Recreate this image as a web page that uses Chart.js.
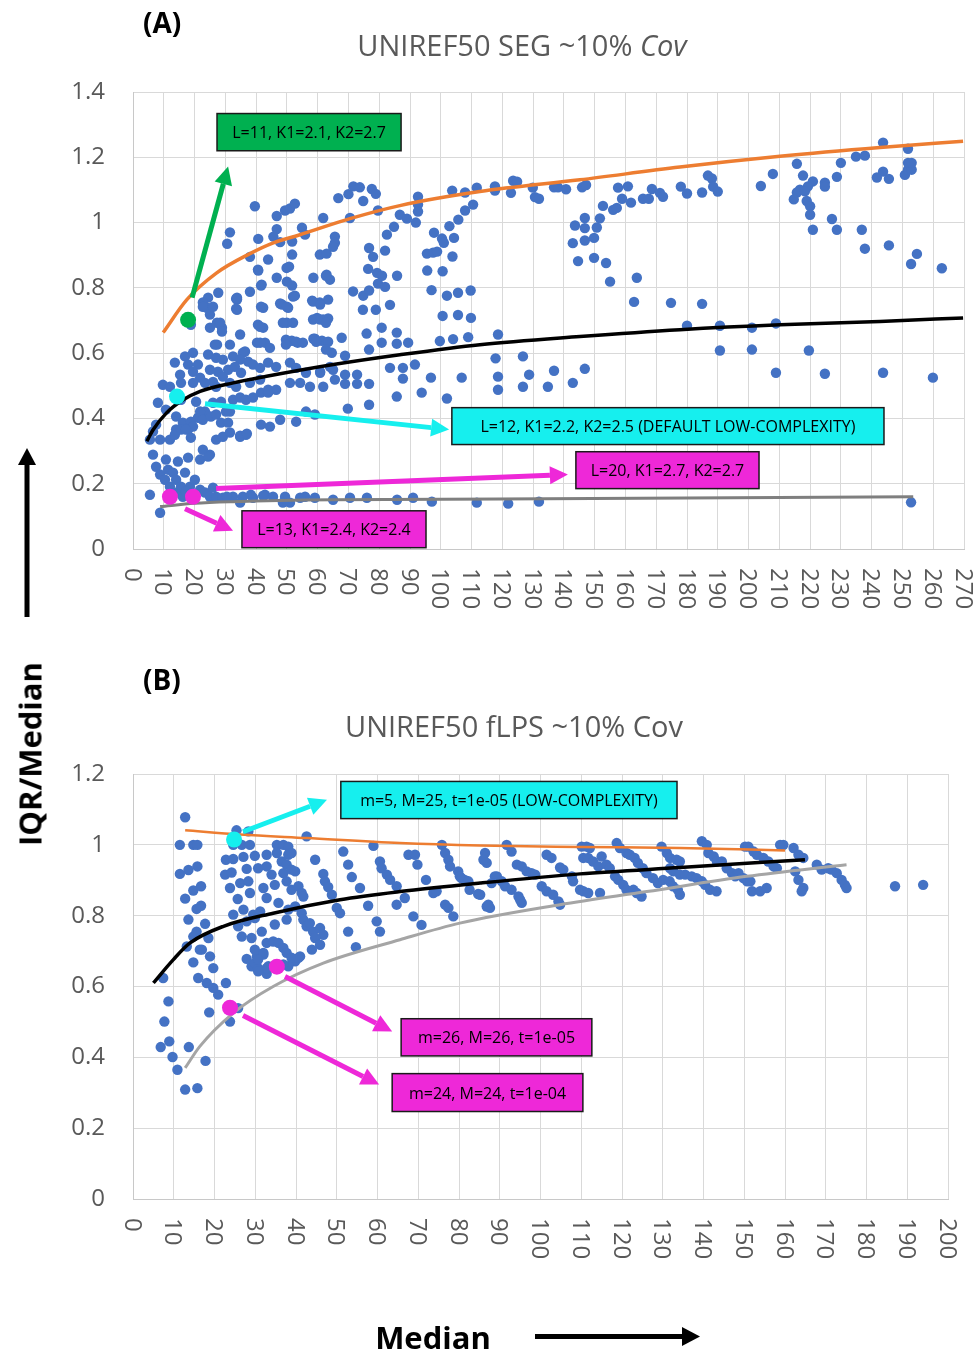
<!DOCTYPE html>
<html>
<head>
<meta charset="utf-8">
<script src="https://cdn.jsdelivr.net/npm/chart.js@4.4.1/dist/chart.umd.min.js"></script>
<style>
  body { margin: 0; background: #fff; width: 977px; height: 1350px; position: relative; overflow: hidden; font-family: 'Open Sans', sans-serif; }
  canvas { position: absolute; left: 0; }
  .lbl { position: absolute; white-space: nowrap; line-height: 1; }
  .title { color: #595959; font-size: 29px; transform: translate(-50%, -50%); }
  .panel { font-weight: bold; font-size: 28px; color: #000; transform: translateY(-50%); }
  .axis { font-weight: bold; font-size: 31px; color: #000; }
</style>
</head>
<body>
<canvas id="chartA" width="977" height="640" style="top:0"></canvas>
<canvas id="chartB" width="977" height="710" style="top:640px"></canvas>

<div class="lbl panel" style="left:143px; top:22px;">(A)</div>
<div class="lbl title" style="left:522px; top:44px;">UNIREF50 SEG ~10% <i>Cov</i></div>
<div class="lbl panel" style="left:143px; top:679px;">(B)</div>
<div class="lbl title" style="left:514px; top:725px;">UNIREF50 fLPS ~10% Cov</div>
<div class="lbl axis" style="left:30px; top:754px; transform: translate(-50%, -50%) rotate(-90deg);">IQR/Median</div>
<div class="lbl axis" style="left:433px; top:1337px; transform: translate(-50%, -50%);">Median</div>

<svg width="977" height="1350" style="position:absolute; left:0; top:0; pointer-events:none;">
  <line x1="27" y1="617" x2="27" y2="462" stroke="#000" stroke-width="5"/>
  <polygon points="18,465 36,465 27,448" fill="#000"/>
  <line x1="535" y1="1336.5" x2="684" y2="1336.5" stroke="#000" stroke-width="5"/>
  <polygon points="682,1327 682,1346 700,1336.5" fill="#000"/>
</svg>

<script>
// Colours taken from the figure
const BLUE = '#4472C4';
const ORANGE = '#ED7D31';
const GREEN = '#00B050';
const CYAN = '#16EFEE';
const MAGENTA = '#EE28D8';

// ---------- Panel A data (SEG) : [median, IQR/median] ----------
const segPoints = [
  [39.6,1.05],[31.5,0.97],[30.6,0.935],[46.7,1.02],[46.7,0.98],[40.7,0.95],[45.6,0.957],[47.8,0.94],[49.4,1.037],[51,1.043],
  [52.6,1.058],[54.9,0.984],[55.9,0.963],[51.7,0.942],[51.7,0.902],[38,0.895],[43.9,0.887],[40.7,0.853],[41.8,0.81],[46.7,0.831],
  [49.9,0.861],[50,0.819],[51.7,0.807],[52.6,0.776],[38,0.788],[33.8,0.77],[27.7,0.785],[24.4,0.77],[61.8,1.014],[60.7,0.902],
  [62.9,0.905],[65.6,0.957],[65.6,0.938],[58.6,0.831],[62.9,0.84],[64,0.825],[66.7,1.075],[70,1.087],[71.6,1.111],[73.7,1.108],
  [74.8,1.066],[77.6,1.103],[78.9,1.088],[70.5,1.014],[79.6,1.037],[76.7,0.922],[78,0.895],[81.9,0.914],[71.5,0.789],[74.8,0.776],
  [76.7,0.792],[76.4,0.858],[79.3,0.846],[80.9,0.837],[79.6,0.813],[81.9,0.803],[85.8,0.837],[84.8,0.987],[82.5,0.963],[86.7,1.024],
  [89,1.012],[91.9,1.0],[92.6,1.079],[92.6,1.055],[92.6,1.034],[95.5,0.905],[97.5,0.908],[98.8,0.911],[97.8,0.969],[100.4,0.951],
  [101,0.938],[104.3,0.953],[103.8,0.896],[95.6,0.853],[100.6,0.851],[97,0.793],[102,0.776],[105.6,0.785],[109.7,0.792],[102.8,0.989],
  [105.7,1.009],[107.9,1.037],[110.5,1.055],[103.7,1.098],[107.9,1.092],[111.7,1.107],[117.6,1.111],[117.6,1.098],[122.8,1.091],[123.5,1.128],
  [124.8,1.125],[129.9,1.107],[130.6,1.078],[131.9,1.073],[136.8,1.108],[138.1,1.108],[140.7,1.102],[145.9,1.108],[147.2,1.115],[143.6,0.991],
  [146.8,1.014],[146.8,0.983],[142.9,0.937],[146.8,0.945],[149.8,0.953],[144.6,0.882],[149.8,0.892],[153.7,0.876],[155,0.819],[150.7,0.985],
  [151.7,1.013],[152.7,1.051],[156,1.039],[157.2,1.045],[157.6,1.107],[160.8,1.111],[158.9,1.073],[161.8,1.061],[163.7,0.831],[165.7,1.073],
  [167.6,1.073],[168.6,1.103],[171.2,1.091],[172.2,1.079],[178,1.11],[180,1.089],[184.9,1.092],[186.8,1.144],[188.1,1.135],[188.5,1.11],
  [190,1.095],[204,1.112],[207.9,1.149],[215.7,1.18],[217.7,1.144],[220.9,1.126],[219.3,1.111],[216.7,1.101],[215.7,1.092],[214.7,1.071],
  [218.3,1.096],[218.9,1.066],[220,1.05],[220,1.024],[220.9,0.978],[224.8,1.122],[224.8,1.11],[228.7,1.14],[230,1.183],[227.1,1.011],
  [228.7,0.978],[234.9,1.202],[237.8,1.205],[236.8,0.978],[237.8,0.92],[241.7,1.138],[243.7,1.156],[245.6,1.134],[243.7,1.245],[245.6,0.93],
  [250.8,1.146],[251.8,1.162],[253,1.162],[251.8,1.183],[253,1.183],[251.8,1.226],[252.8,0.873],[254.7,0.904],[262.8,0.86],
  [162.8,0.757],[174.8,0.754],[184.9,0.751],[180,0.684],[190.7,0.684],[201.1,0.678],[208.9,0.691],[190.7,0.608],[201.1,0.611],[219.6,0.608],
  [208.9,0.54],[224.8,0.537],[243.7,0.54],[259.9,0.525],[118.6,0.657],[117.8,0.584],[118.6,0.528],[118.6,0.488],[126.7,0.59],[128.7,0.534],
  [126.7,0.497],[136.8,0.546],[134.8,0.497],[142.9,0.509],[146.8,0.552],[121.9,0.139],[131.9,0.145],[252.8,0.143],
  [100.6,0.714],[105.6,0.717],[109.8,0.708],[99.7,0.637],[104,0.643],[108.9,0.649],[102,0.461],[106.8,0.525],[93.8,0.479],[96.8,0.525],
  [85.7,0.467],[87.7,0.555],[87.7,0.522],[91.6,0.565],[83.5,0.555],[85.7,0.663],[85.7,0.629],[89.4,0.632],[80.8,0.678],[80.8,0.632],
  [83.5,0.748],[78.9,0.733],[74.7,0.733],[75.9,0.66],[76.7,0.611],[76.7,0.506],[72.8,0.506],[72.8,0.534],[68.9,0.534],[68.9,0.506],
  [76.7,0.442],[69.8,0.43],[65,0.549],[65.6,0.519],[60.8,0.54],[67.8,0.647],[64.6,0.601],[68.9,0.592],[58.6,0.644],[61.4,0.638],
  [63.4,0.635],[63.4,0.764],[63.4,0.706],[61.8,0.703],[59.8,0.708],[58.2,0.761],[60.7,0.755],[52,0.693],[50,0.693],[48.4,0.749],
  [50.4,0.739],[52,0.773],[51.6,0.638],[53.5,0.632],[49.7,0.641],[42.3,0.739],[40.6,0.687],[42.3,0.678],[40.3,0.632],[42.9,0.632],
  [33.8,0.764],[33.8,0.733],[34.8,0.657],[31.5,0.626],[27.3,0.693],[28.9,0.678],[25,0.678],[27.3,0.626],[24,0.739],[25,0.718],
  [22.7,0.755],[41.6,0.807],[33.5,0.767],[33.5,0.736],[22.7,0.742],[26,0.742],[18.8,0.687],[28.3,0.693],[28.9,0.666],[41.6,0.742],
  [47.8,0.752],[50,0.742],[41.3,0.681],[48.7,0.693],[53,0.635],[58.5,0.758],[60.8,0.749],[58.5,0.703],[60.8,0.703],[62.7,0.693],
  [59.1,0.644],[65,0.926],[40.6,0.856],[50.7,0.865],[62.7,0.837],
  [26.6,0.626],[36.4,0.605],[41.3,0.632],[44.5,0.616],[49.7,0.626],[55.2,0.632],[59.5,0.635],[62.7,0.611],[16.9,0.59],[19.5,0.601],
  [24.4,0.596],[27,0.586],[29.2,0.58],[32.5,0.59],[35.7,0.601],[34.8,0.58],[37.4,0.574],[13.6,0.571],[17.9,0.565],[21.1,0.565],
  [19.5,0.543],[25,0.549],[27.6,0.543],[30.9,0.549],[33.1,0.558],[35.1,0.54],[15.3,0.534],[21.8,0.525],[26,0.512],[29.2,0.528],
  [39,0.565],[41.3,0.555],[43.9,0.571],[46.5,0.558],[51,0.571],[53,0.555],[56.2,0.54],[60.8,0.543],[64,0.558],[9.7,0.503],
  [12,0.497],[15.6,0.509],[19.5,0.509],[23.4,0.509],[27,0.497],[31.5,0.509],[33.5,0.497],[38,0.509],[41.3,0.519],[43.9,0.488],
  [46.5,0.488],[51,0.509],[54.3,0.509],[57.5,0.497],[61.8,0.497],[8.1,0.448],[10.7,0.427],[15.6,0.457],[20.5,0.451],[23.4,0.421],
  [26,0.448],[28.6,0.451],[31.5,0.421],[32.5,0.457],[34.8,0.464],[36.7,0.457],[39,0.464],[41.6,0.479],[43.9,0.479],[7.5,0.381],
  [6.5,0.36],[14,0.406],[16.2,0.387],[18.8,0.39],[21.1,0.402],[21.8,0.421],[14,0.366],[17.9,0.366],[19.5,0.375],[22.7,0.396],
  [25.3,0.406],[27,0.412],[30.2,0.421],[28.6,0.387],[30.9,0.387],[5.5,0.335],[8.8,0.335],[12,0.335],[13.6,0.35],[15.6,0.366],
  [17.2,0.366],[18.8,0.341],[41.6,0.381],[44.5,0.375],[47.8,0.396],[53,0.39],[56.2,0.421],[59.1,0.412],[27,0.335],[29.2,0.344],
  [31.5,0.357],[34.8,0.344],[36.7,0.35],[22.7,0.304],[25,0.289],[21.8,0.274],[17.9,0.28],[14.6,0.268],[10.7,0.274],[6.5,0.289],
  [7.5,0.252],[8.8,0.228],[10.4,0.212],[12,0.191],[14,0.173],[16.2,0.16],[18.5,0.191],[20.1,0.212],[16.9,0.234],[11.4,0.243],
  [13,0.234],[14,0.212],[15.6,0.191],[17.2,0.176],[21.8,0.182],[23.4,0.173],[25,0.16],[27,0.16],[29.2,0.157],[5.5,0.166],
  [8.8,0.111],[26,0.188],[32.5,0.16],[35.7,0.16],[38.3,0.166],[42.9,0.166],[45.5,0.16],[49.4,0.16],[51,0.142],[55.9,0.16],
  [59.1,0.157],[34.8,0.142],[54.3,0.157],[48.7,0.142],[65,0.151],[70.5,0.157],[76,0.157],[85.8,0.151],[91,0.157],[97.1,0.145],
  [111.7,0.142],[30.5,0.16],[39,0.157],[42.3,0.163],[24.4,0.283],[34.8,0.347],[37,0.353]
];
// trend lines
const segUpper = [[9.8,0.663],[17.5,0.764],[27.2,0.846],[38,0.905],[45.6,0.938],[54,0.962],[70.5,1.012],[86.7,1.052],[112.7,1.095],[145.2,1.131],[177.7,1.17],[210.2,1.203],[242.7,1.23],[269.7,1.249]];
const segMiddle = [[4.5,0.33],[6.6,0.366],[10.9,0.417],[16.3,0.457],[21.8,0.483],[32.6,0.509],[43.4,0.529],[65.1,0.565],[86.7,0.595],[112.7,0.626],[145.2,0.651],[177.7,0.672],[210.2,0.687],[242.7,0.697],[269.7,0.708]];
const segLower = [[8.8,0.13],[20,0.14],[32.5,0.145],[65,0.151],[119,0.153],[253.5,0.16]];
// highlighted parameter settings
const segGreen = [[17.9,0.702]];
const segCyan = [[14.3,0.467]];
const segMagenta = [[12,0.16],[19.5,0.16]];
const xTicksA = [0,10,20,30,40,50,60,70,80,90,100,110,120,130,140,150,160,170,180,190,200,210,220,230,240,250,260,270];
const yTicksA = [0,0.2,0.4,0.6,0.8,1,1.2,1.4];

// ---------- Panel B data (fLPS) ----------
const flpsPoints = [
  [12.8,1.078],[11.5,1.0],[14.8,1.0],[15.8,1.0],[11.5,0.918],[13.6,0.929],[15.8,0.939],[12.8,0.848],[14.8,0.871],[16.7,0.883],
  [15.6,0.819],[16.7,0.828],[13.6,0.789],[17.7,0.777],[14.8,0.741],[15.6,0.755],[18.5,0.737],[13.2,0.713],[16.4,0.704],[18.9,0.685],
  [14.8,0.668],[16,0.624],[19.7,0.652],[18.1,0.61],[20.9,0.577],[22.8,0.61],[19.7,0.596],[7.4,0.624],[8.7,0.558],[18.7,0.527],
  [7.7,0.501],[6.8,0.429],[8.9,0.445],[9.7,0.401],[10.9,0.365],[12.8,0.309],[15.8,0.313],[13.7,0.429],[17.8,0.39],[16.9,0.704],
  [23.8,0.501],[25.8,0.539],[29.1,0.657],[32.8,0.636],[30.4,0.685],[32,0.69],[39.8,0.671],[41,0.685],
  [25.4,1.041],[24.6,1.0],[26.7,1.0],[28.7,1.0],[28.3,1.038],[22.8,0.958],[24.6,0.96],[27.1,0.966],[29.9,0.969],[32.8,0.972],
  [22.6,0.916],[24.2,0.922],[27.9,0.932],[23.8,0.878],[26.3,0.892],[28.3,0.897],[25.7,0.847],[28.7,0.864],[32,0.878],[30.7,0.934],
  [32.8,0.939],[34,0.916],[34.8,0.887],[32.8,0.85],[35.7,0.836],[24.6,0.803],[27.1,0.817],[29.5,0.803],[31.2,0.812],[25.8,0.77],
  [27.9,0.784],[29.9,0.793],[26.7,0.741],[29.1,0.737],[31.6,0.755],[34.8,0.775],[29.9,0.704],[32,0.695],[32.8,0.723],[27.9,0.678],
  [29.9,0.666],[30.7,0.652],[33.2,0.657],[30.7,0.676],[35.3,1.0],[36.9,1.0],[38.1,0.995],[35.3,0.977],[38.1,0.972],[38.9,0.977],
  [36.5,0.953],[37.7,0.944],[36.9,0.92],[38.9,0.93],[39.8,0.925],[37.7,0.897],[38.9,0.873],[40.6,0.883],[41.4,0.864],[41.8,0.854],
  [38.1,0.817],[37.7,0.789],[39.8,0.826],[41.4,0.807],[41.8,0.789],[42.6,0.77],[43.4,0.779],[44.2,0.755],[45.9,0.765],[46.7,0.746],
  [44.7,0.737],[45.9,0.718],[43.9,0.704],[34.4,0.727],[35.7,0.723],[36.9,0.709],[37.7,0.695],[38.9,0.681],[40.6,0.681],[38.1,0.657],
  [36.9,0.662],[34.4,0.657],[32.8,0.652],[30.7,0.643],[42.6,1.024],[44.7,0.958],[46.7,0.918],[47.1,0.897],[47.9,0.881],[48.8,0.859],
  [50,0.822],[50.8,0.807],[51.6,0.981],[52.8,0.944],[53.7,0.909],[55.7,0.878],[57.7,0.828],[52.8,0.755],[54.7,0.711],[59,0.997],
  [60.6,0.953],[61,0.934],[62.3,0.916],[63.1,0.901],[64.7,0.883],[64.7,0.831],[59.8,0.784],[60.6,0.755],[66.7,0.85],[68.8,0.798],
  [70.8,0.774],[67.6,0.972],[69.2,0.972],[69.8,0.944],[71.9,0.901],[73.7,0.864],[74.5,0.869],[75.8,1.0],[76.6,0.977],[77.4,0.958],
  [77.8,0.939],[79.8,0.925],[80.6,0.906],[81.4,0.901],[82.6,0.873],[85.2,0.859],[86.8,0.826],[87.6,0.822],[86.4,0.977],[86.8,0.949],
  [89.3,0.911],[76.6,0.831],[77.4,0.822],[78.6,0.798],[80.2,0.911],[82.3,0.897],[84.7,0.861],[87.2,0.831],[86,0.958],[88.8,0.911],
  [90.5,0.897],[91.3,0.883],[92.9,0.873],[94.6,0.854],[95.4,0.836],[88,0.892],[91.7,1.0],[92.9,0.981],[94.2,0.944],[95.4,0.939],
  [96.6,0.925],[97.8,0.92],[98.7,0.916],[100.3,0.883],[101.5,0.869],[103.1,0.859],[104.4,0.84],[104.8,0.831],[95,0.845],[101.5,0.972],
  [102.7,0.963],[104.8,0.936],[105.6,0.93],[107.7,0.911],[108,0.897],[109.7,0.873],[110.5,0.869],[111.7,0.864],[114.6,0.864],[110.1,0.995],
  [111.3,0.995],[112.1,0.991],[110.5,0.963],[111.7,0.963],[112.9,0.953],[114.2,0.939],[115,0.967],[116.2,0.944],[117,0.934],[118.3,0.911],
  [119.1,0.901],[120.3,0.887],[121.1,0.873],[122.8,0.873],[123.6,0.864],[124.8,0.854],[118.7,1.005],[119.5,0.991],[121.1,0.977],[121.9,0.972],
  [123.1,0.963],[123.9,0.949],[125.1,0.934],[126,0.92],[127.6,0.906],[128.8,0.892],[130.1,0.901],[131.7,0.897],[132.5,0.883],[133.7,0.873],
  [134.2,0.859],[129.7,0.995],[131,0.977],[131.8,0.963],[133.4,0.958],[134.2,0.953],[131.8,0.934],[132.6,0.925],[134.2,0.916],[135.5,0.916],
  [137.1,0.911],[138.3,0.906],[139.6,0.897],[140.4,0.887],[141.6,0.873],[143.2,0.869],[139.6,1.01],[140.8,1.0],[141.2,0.977],[142.5,0.967],
  [143.3,0.953],[144.5,0.953],[145.7,0.934],[147,0.92],[147.8,0.911],[148.6,0.92],[149.8,0.906],[150.7,0.897],[151.5,0.897],[151.9,0.869],
  [153.9,0.869],[155.5,0.878],[150.2,0.995],[151,0.995],[152.3,0.981],[153.1,0.972],[154.7,0.963],[155.9,0.953],[157.2,0.939],[158,0.934],
  [158.8,1.0],[159.6,1.0],[162.1,0.991],[163.3,0.972],[164.5,0.963],[162.5,0.925],[163.3,0.901],[164.5,0.878],[164.1,0.869],[167.8,0.944],
  [169,0.93],[170.6,0.934],[171.4,0.93],[172.7,0.92],[173.9,0.901],[174.7,0.887],[175.1,0.878],[187,0.883],[193.9,0.887]
];
const flpsUpper = [[12.8,1.041],[26.3,1.029],[42.6,1.019],[65.5,1.005],[85.2,0.998],[109.7,0.994],[134.2,0.991],[160,0.984]];
const flpsMiddle = [[5,0.61],[9.9,0.676],[14,0.723],[22.2,0.77],[34.4,0.807],[50.8,0.845],[65.5,0.868],[85.2,0.892],[109.7,0.918],[134.2,0.936],[164.9,0.958]];
const flpsLower = [[12.8,0.37],[16.4,0.431],[24.6,0.525],[34.4,0.6],[46.7,0.666],[65.5,0.732],[80.2,0.779],[104.8,0.831],[126.1,0.868],[150.6,0.911],[175.1,0.944]];
const flpsCyan = [[24.8,1.015]];
const flpsMagenta = [[35.3,0.656],[23.8,0.54]];
const xTicksB = [0,10,20,30,40,50,60,70,80,90,100,110,120,130,140,150,160,170,180,190,200];
const yTicksB = [0,0.2,0.4,0.6,0.8,1,1.2];

// labels and arrows on top of the plots, placed in data units
const notesA = {
  boxes: [
    {x1: 27.3, x2: 87.1, y1: 1.334, y2: 1.22, fill: GREEN, text: 'L=11, K1=2.1, K2=2.7'},
    {x1: 103.6, x2: 244.0, y1: 0.433, y2: 0.32, fill: CYAN, text: 'L=12, K1=2.2, K2=2.5 (DEFAULT LOW-COMPLEXITY)'},
    {x1: 143.9, x2: 203.4, y1: 0.298, y2: 0.185, fill: MAGENTA, text: 'L=20, K1=2.7, K2=2.7'},
    {x1: 35.4, x2: 95.2, y1: 0.117, y2: 0.004, fill: MAGENTA, text: 'L=13, K1=2.4, K2=2.4'}
  ],
  arrows: [
    {from: [19.2, 0.77], to: [30.9, 1.172], color: GREEN},
    {from: [23.4, 0.445], to: [102.7, 0.366], color: CYAN},
    {from: [27.0, 0.185], to: [141.3, 0.228], color: MAGENTA},
    {from: [16.9, 0.123], to: [32.5, 0.056], color: MAGENTA}
  ]
};
const notesB = {
  boxes: [
    {x1: 51.0, x2: 133.5, y1: 1.179, y2: 1.074, fill: CYAN, text: 'm=5, M=25, t=1e-05 (LOW-COMPLEXITY)'},
    {x1: 65.8, x2: 112.6, y1: 0.509, y2: 0.404, fill: MAGENTA, text: 'm=26, M=26, t=1e-05'},
    {x1: 63.6, x2: 110.4, y1: 0.354, y2: 0.247, fill: MAGENTA, text: 'm=24, M=24, t=1e-04'}
  ],
  arrows: [
    {from: [27.0, 1.037], to: [47.6, 1.127], color: CYAN},
    {from: [37.3, 0.628], to: [63.6, 0.473], color: MAGENTA},
    {from: [27.0, 0.518], to: [60.4, 0.323], color: MAGENTA}
  ]
};

function toXY(list) {
  return list.map(p => ({x: p[0], y: p[1]}));
}

function drawArrow(ctx, x1, y1, x2, y2, color) {
  const ang = Math.atan2(y2 - y1, x2 - x1);
  const hl = 18, hw = 9; // head length and half width
  const bx = x2 - hl * Math.cos(ang), by = y2 - hl * Math.sin(ang);
  ctx.strokeStyle = color;
  ctx.lineWidth = 5;
  ctx.beginPath();
  ctx.moveTo(x1, y1);
  ctx.lineTo(bx, by);
  ctx.stroke();
  ctx.fillStyle = color;
  ctx.beginPath();
  ctx.moveTo(x2, y2);
  ctx.lineTo(bx + hw * Math.sin(ang), by - hw * Math.cos(ang));
  ctx.lineTo(bx - hw * Math.sin(ang), by + hw * Math.cos(ang));
  ctx.closePath();
  ctx.fill();
}

// draws the text boxes / arrows and the vertical x tick labels
const notesPlugin = {
  id: 'notes',
  afterDatasetsDraw(chart, args, opts) {
    const {ctx, scales: {x, y}} = chart;
    ctx.save();
    opts.arrows.forEach(a => {
      drawArrow(ctx, x.getPixelForValue(a.from[0]), y.getPixelForValue(a.from[1]),
        x.getPixelForValue(a.to[0]), y.getPixelForValue(a.to[1]), a.color);
    });
    opts.boxes.forEach(b => {
      const left = x.getPixelForValue(b.x1), right = x.getPixelForValue(b.x2);
      const top = y.getPixelForValue(b.y1), bottom = y.getPixelForValue(b.y2);
      ctx.fillStyle = b.fill;
      ctx.fillRect(left, top, right - left, bottom - top);
      ctx.strokeStyle = '#1a1a1a';
      ctx.lineWidth = 1.5;
      ctx.strokeRect(left, top, right - left, bottom - top);
      ctx.fillStyle = '#000';
      ctx.font = '16px "Open Sans"';
      ctx.textAlign = 'center';
      ctx.textBaseline = 'alphabetic';
      ctx.fillText(b.text, (left + right) / 2, (top + bottom) / 2 + 6);
    });
    ctx.restore();
  },
  afterDraw(chart) {
    const {ctx, chartArea, scales: {x}} = chart;
    ctx.save();
    ctx.font = '24px "Open Sans"';
    ctx.fillStyle = '#595959';
    ctx.textAlign = 'left';
    ctx.textBaseline = 'alphabetic';
    x.ticks.forEach(t => {
      ctx.save();
      ctx.translate(x.getPixelForValue(t.value), chartArea.bottom + 19);
      ctx.rotate(Math.PI / 2); // reads top to bottom
      ctx.fillText(String(t.value), 0, 8.5);
      ctx.restore();
    });
    ctx.restore();
  }
};

function makeChart(id, cfg) {
  const ctx = document.getElementById(id).getContext('2d');
  const canvasHeight = ctx.canvas.height;
  const datasets = [];
  // highlighted settings on top of everything
  cfg.highlights.forEach(h => datasets.push({
    data: toXY(h.data), pointRadius: 8, pointBackgroundColor: h.color, pointBorderWidth: 0, order: 0
  }));
  cfg.trends.forEach(t => datasets.push({
    data: toXY(t.data), showLine: true, borderColor: t.color, borderWidth: t.width,
    pointRadius: 0, cubicInterpolationMode: 'monotone', fill: false, order: 1
  }));
  datasets.push({
    data: toXY(cfg.points), pointRadius: 5.2, pointBackgroundColor: BLUE, pointBorderWidth: 0, order: 2
  });

  return new Chart(ctx, {
    type: 'scatter',
    data: {datasets: datasets},
    plugins: [notesPlugin],
    options: {
      responsive: false,
      animation: false,
      devicePixelRatio: 1,
      events: [],
      layout: {padding: {left: 0, top: cfg.top, right: cfg.right, bottom: 0}},
      scales: {
        x: {
          type: 'linear',
          min: cfg.xTicks[0],
          max: cfg.xTicks[cfg.xTicks.length - 1],
          afterBuildTicks: s => { s.ticks = cfg.xTicks.map(v => ({value: v})); },
          afterFit: s => { s.height = canvasHeight - cfg.bottom; },
          ticks: {display: false},
          grid: {color: '#d9d9d9', lineWidth: 1, drawTicks: false},
          border: {color: '#c8c8c8', width: 1}
        },
        y: {
          min: cfg.yTicks[0],
          max: cfg.yTicks[cfg.yTicks.length - 1],
          afterBuildTicks: s => { s.ticks = cfg.yTicks.map(v => ({value: v})); },
          afterFit: s => { s.width = 133; },
          ticks: {
            padding: 28,
            color: '#595959',
            font: {family: 'Open Sans', size: 24},
            callback: v => String(v)
          },
          grid: {color: '#d9d9d9', lineWidth: 1, drawTicks: false},
          border: {color: '#c8c8c8', width: 1}
        }
      },
      plugins: {
        legend: {display: false},
        tooltip: {enabled: false},
        notes: cfg.notes
      }
    }
  });
}

makeChart('chartA', {
  top: 92, right: 13, bottom: 549,
  xTicks: xTicksA, yTicks: yTicksA,
  points: segPoints,
  trends: [
    {data: segUpper, color: ORANGE, width: 3.5},
    {data: segMiddle, color: '#000000', width: 3.5},
    {data: segLower, color: '#7f7f7f', width: 3}
  ],
  highlights: [
    {data: segGreen, color: GREEN},
    {data: segCyan, color: CYAN},
    {data: segMagenta, color: MAGENTA}
  ],
  notes: notesA
});

makeChart('chartB', {
  top: 134, right: 29, bottom: 559,
  xTicks: xTicksB, yTicks: yTicksB,
  points: flpsPoints,
  trends: [
    {data: flpsUpper, color: ORANGE, width: 2.5},
    {data: flpsMiddle, color: '#000000', width: 3.5},
    {data: flpsLower, color: '#a5a5a5', width: 3}
  ],
  highlights: [
    {data: flpsCyan, color: CYAN},
    {data: flpsMagenta, color: MAGENTA}
  ],
  notes: notesB
});
</script>
</body>
</html>
